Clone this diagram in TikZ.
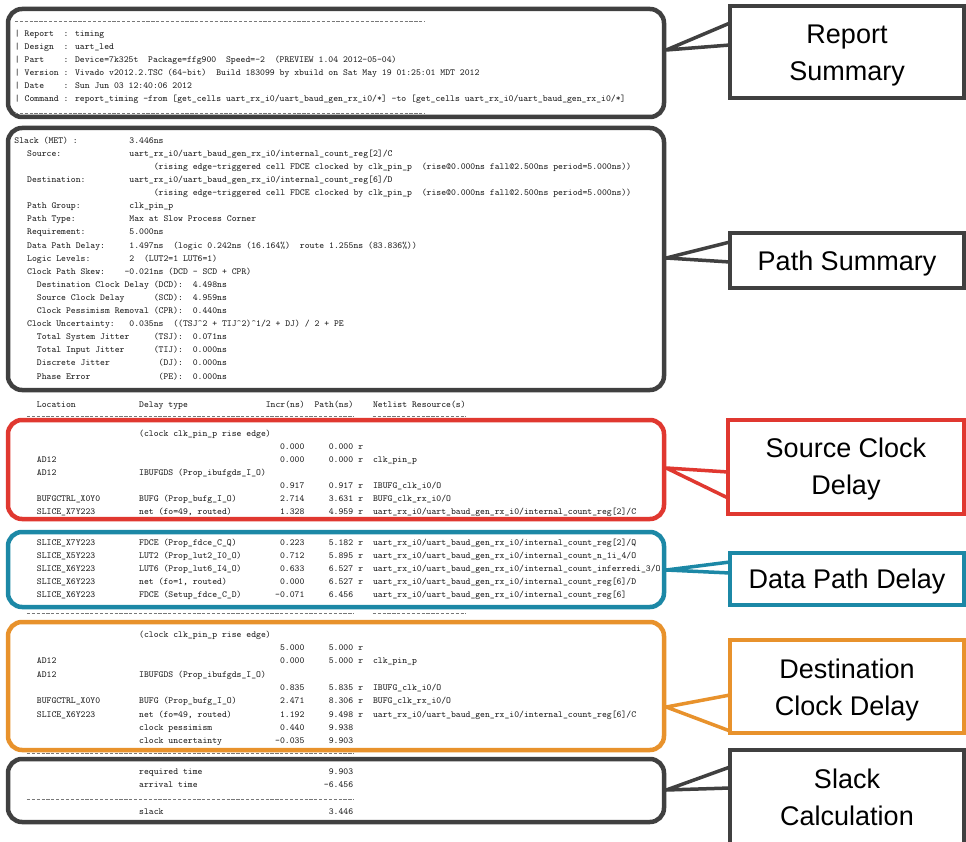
\documentclass[tikz,border=0pt]{standalone}
\usepackage{fontspec}
\newfontfamily\labfont{Liberation Sans}
\definecolor{cGray}{RGB}{64,64,64}
\definecolor{cRed}{RGB}{224,56,48}
\definecolor{cTeal}{RGB}{28,136,166}
\definecolor{cOrange}{RGB}{232,146,44}
\definecolor{cText}{RGB}{30,30,30}
\tikzset{
 tt/.style={font=\fontsize{9.28}{11}\selectfont\ttfamily, text=cText, inner sep=0pt, text height=6.5pt, text depth=2pt},
 rbox/.style={draw, line width=4.5pt, rounded corners=14pt, inner sep=0pt},
 lbox/.style={draw, line width=3.5pt, inner sep=0pt, fill=white},
 ltext/.style={inner sep=0pt, align=center, font=\labfont\fontsize{27}{37}\selectfont},
 conn/.style={line width=3.5pt, line join=round},
 dline/.style={line width=0.8pt, cText!60, dash pattern=on 3.2pt off 1.67pt}
}
\newcounter{tn}
\newcommand\T[3]{\stepcounter{tn}\node[tt,anchor=west] (tx\arabic{tn}) at ({17.2+#1*4.872},#2) {#3};}
\newcommand\R[3]{\stepcounter{tn}\node[tt,anchor=east] (tx\arabic{tn}) at ({17.2+#1*4.872},#2) {#3};}
\newcommand\TR[7]{%
 \if\relax\detokenize{#2}\relax\else\T{4}{#1}{#2}\fi
 \if\relax\detokenize{#3}\relax\else\T{25}{#1}{#3}\fi
 \if\relax\detokenize{#4}\relax\else\R{59}{#1}{#4}\fi
 \if\relax\detokenize{#5}\relax\else\R{69}{#1}{#5}\fi
 \if\relax\detokenize{#6}\relax\else\T{70}{#1}{#6}\fi
 \if\relax\detokenize{#7}\relax\else\T{73}{#1}{#7}\fi}
\newcommand\DL[2]{\draw[dline] ({17.2+#1*4.872},#2) -- ({17.2+69*4.872},#2);}
\begin{document}
\begin{tikzpicture}[x=1pt,y=-1pt]
\useasboundingbox (0,0) rectangle (966,842);
\fill[white] (0,0) rectangle (966,842);
\clip (0,0) rectangle (966,842);

% ---------- rounded section boxes ----------
\node[rbox, draw=cGray,   minimum width=656, minimum height=108] (b1) at (336,63) {};
\node[rbox, draw=cGray,   minimum width=656, minimum height=262] (b2) at (336,259) {};
\node[rbox, draw=cRed,    minimum width=656, minimum height=99]  (b3) at (336,469.5) {};
\node[rbox, draw=cTeal,   minimum width=656, minimum height=75]  (b4) at (336,569.5) {};
\node[rbox, draw=cOrange, minimum width=656, minimum height=128] (b5) at (336,686) {};
\node[rbox, draw=cGray,   minimum width=656, minimum height=63]  (b6) at (336,790.5) {};

% ---------- report summary ----------
\draw[dline] (15,21) -- (425,21);
\draw[dline] (15,113) -- (425,113);
\T{-0.5}{34}{| Report~~: timing}
\T{-0.5}{47.1}{| Design~~: uart\_led}
\T{-0.5}{60.2}{| Part~~~~: Device=7k325t~~Package=ffg900~~Speed=-2~~(PREVIEW 1.04 2012-05-04)}
\T{-0.5}{73.3}{| Version : Vivado v2012.2.TSC (64-bit)~~Build 183099 by xbuild on Sat May 19 01:25:01 MDT 2012}
\T{-0.5}{86.4}{| Date~~~~: Sun Jun 03 12:40:06 2012}
\T{-0.5}{99.5}{| Command : report\_timing -from [get\_cells uart\_rx\_i0/uart\_baud\_gen\_rx\_i0/*] -to [get\_cells uart\_rx\_i0/uart\_baud\_gen\_rx\_i0/*]}

% ---------- path summary ----------
\T{-0.6}{141}{Slack (MET) :}\T{23}{141}{3.446ns}
\T{2}{154.1}{Source:}\T{23}{154.1}{uart\_rx\_i0/uart\_baud\_gen\_rx\_i0/internal\_count\_reg[2]/C}
\T{28}{167.2}{(rising edge-triggered cell FDCE clocked by clk\_pin\_p~~(rise@0.000ns fall@2.500ns period=5.000ns))}
\T{2}{180.3}{Destination:}\T{23}{180.3}{uart\_rx\_i0/uart\_baud\_gen\_rx\_i0/internal\_count\_reg[6]/D}
\T{28}{193.4}{(rising edge-triggered cell FDCE clocked by clk\_pin\_p~~(rise@0.000ns fall@2.500ns period=5.000ns))}
\T{2}{206.5}{Path Group:}\T{23}{206.5}{clk\_pin\_p}
\T{2}{219.6}{Path Type:}\T{23}{219.6}{Max at Slow Process Corner}
\T{2}{232.7}{Requirement:}\T{23}{232.7}{5.000ns}
\T{2}{245.8}{Data Path Delay:}\T{23}{245.8}{1.497ns~~(logic 0.242ns (16.164\%)~~route 1.255ns (83.836\%))}
\T{2}{258.9}{Logic Levels:}\T{23}{258.9}{2~~(LUT2=1 LUT6=1)}
\T{2}{272}{Clock Path Skew:}\T{22}{272}{-0.021ns (DCD - SCD + CPR)}
\T{4}{285.1}{Destination Clock Delay (DCD):~~4.498ns}
\T{4}{298.2}{Source Clock Delay~~~~~~(SCD):~~4.959ns}
\T{4}{311.3}{Clock Pessimism Removal (CPR):~~0.440ns}
\T{2}{324.4}{Clock Uncertainty:}\T{23}{324.4}{0.035ns~~((TSJ\textasciicircum 2 + TIJ\textasciicircum 2)\textasciicircum 1/2 + DJ) / 2 + PE}
\T{4}{337.5}{Total System Jitter~~~~~(TSJ):~~0.071ns}
\T{4}{350.6}{Total Input Jitter~~~~~~(TIJ):~~0.000ns}
\T{4}{363.7}{Discrete Jitter~~~~~~~~~~(DJ):~~0.000ns}
\T{4}{376.8}{Phase Error~~~~~~~~~~~~~~(PE):~~0.000ns}

% ---------- table header ----------
\T{4}{405}{Location}\T{25}{405}{Delay type}\T{51}{405}{Incr(ns)}\T{61}{405}{Path(ns)}\T{73}{405}{Netlist Resource(s)}
\DL{2}{416}
\draw[dline] ({17.2+73*4.872},416) -- ({17.2+92*4.872},416);

% ---------- source clock delay ----------
\TR{434}{}{(clock clk\_pin\_p rise edge)}{}{}{}{}
\TR{447.1}{}{}{0.000}{0.000}{r}{}
\TR{460.2}{AD12}{}{0.000}{0.000}{r}{clk\_pin\_p}
\TR{473.3}{AD12}{IBUFGDS (Prop\_ibufgds\_I\_O)}{}{}{}{}
\TR{486.4}{}{}{0.917}{0.917}{r}{IBUFG\_clk\_i0/O}
\TR{499.5}{BUFGCTRL\_X0Y0}{BUFG (Prop\_bufg\_I\_O)}{2.714}{3.631}{r}{BUFG\_clk\_rx\_i0/O}
\TR{512.6}{SLICE\_X7Y223}{net (fo=49, routed)}{1.328}{4.959}{r}{uart\_rx\_i0/uart\_baud\_gen\_rx\_i0/internal\_count\_reg[2]/C}

% ---------- data path delay ----------
\TR{543}{SLICE\_X7Y223}{FDCE (Prop\_fdce\_C\_Q)}{0.223}{5.182}{r}{uart\_rx\_i0/uart\_baud\_gen\_rx\_i0/internal\_count\_reg[2]/Q}
\TR{556.1}{SLICE\_X5Y223}{LUT2 (Prop\_lut2\_I0\_O)}{0.712}{5.895}{r}{uart\_rx\_i0/uart\_baud\_gen\_rx\_i0/internal\_count\_n\_1i\_4/O}
\TR{569.2}{SLICE\_X6Y223}{LUT6 (Prop\_lut6\_I4\_O)}{0.633}{6.527}{r}{uart\_rx\_i0/uart\_baud\_gen\_rx\_i0/internal\_count\_inferredi\_3/O}
\TR{582.3}{SLICE\_X6Y223}{net (fo=1, routed)}{0.000}{6.527}{r}{uart\_rx\_i0/uart\_baud\_gen\_rx\_i0/internal\_count\_reg[6]/D}
\TR{595.4}{SLICE\_X6Y223}{FDCE (Setup\_fdce\_C\_D)}{-0.071}{6.456}{}{uart\_rx\_i0/uart\_baud\_gen\_rx\_i0/internal\_count\_reg[6]}
\DL{2}{613}
\draw[dline] ({17.2+73*4.872},613) -- ({17.2+92*4.872},613);

% ---------- destination clock delay ----------
\TR{635}{}{(clock clk\_pin\_p rise edge)}{}{}{}{}
\TR{648.3}{}{}{5.000}{5.000}{r}{}
\TR{661.6}{AD12}{}{0.000}{5.000}{r}{clk\_pin\_p}
\TR{674.9}{AD12}{IBUFGDS (Prop\_ibufgds\_I\_O)}{}{}{}{}
\TR{688.2}{}{}{0.835}{5.835}{r}{IBUFG\_clk\_i0/O}
\TR{701.5}{BUFGCTRL\_X0Y0}{BUFG (Prop\_bufg\_I\_O)}{2.471}{8.306}{r}{BUFG\_clk\_rx\_i0/O}
\TR{714.8}{SLICE\_X6Y223}{net (fo=49, routed)}{1.192}{9.498}{r}{uart\_rx\_i0/uart\_baud\_gen\_rx\_i0/internal\_count\_reg[6]/C}
\TR{728.1}{}{clock pessimism}{0.440}{9.938}{}{}
\TR{741.4}{}{clock uncertainty}{-0.035}{9.903}{}{}
\DL{2}{753.5}

% ---------- slack calculation ----------
\TR{772}{}{required time}{}{9.903}{}{}
\TR{785.5}{}{arrival time}{}{-6.456}{}{}
\DL{2}{799}
\TR{812.5}{}{slack}{}{3.446}{}{}

% ---------- connectors ----------
\draw[conn, cGray]   (730,23) -- (b1.east|-0,50) -- (730,45);
\draw[conn, cGray]   (730,242) -- (b2.east|-0,258) -- (730,262);
\draw[conn, cRed]    (728,472) -- (b3.east|-0,468) -- (728,498);
\draw[conn, cTeal]   (730,562) -- (b4.east|-0,570) -- (730,573);
\draw[conn, cOrange] (730,695) -- (b5.east|-0,707) -- (730,731);
\draw[conn, cGray]   (730,767) -- (b6.east|-0,790) -- (730,788);

% ---------- label boxes ----------
\node[lbox, draw=cGray,   minimum width=234, minimum height=92]  (l1) at (847,52) {};
\node[lbox, draw=cGray,   minimum width=234, minimum height=55]  (l2) at (847,260.5) {};
\node[lbox, draw=cRed,    minimum width=236, minimum height=94]  (l3) at (846,467) {};
\node[lbox, draw=cTeal,   minimum width=234, minimum height=52]  (l4) at (847,579) {};
\node[lbox, draw=cOrange, minimum width=234, minimum height=93]  (l5) at (847,686.5) {};
\node[lbox, draw=cGray,   minimum width=234, minimum height=100] (l6) at (847,800) {};
\node[ltext] (l1t) at (847,56) {Report\\Summary};
\node[ltext] (l2t) at (847,263.5) {Path Summary};
\node[ltext] (l3t) at (846,469) {Source Clock\\Delay};
\node[ltext] (l4t) at (847,582) {Data Path Delay};
\node[ltext] (l5t) at (847,690) {Destination\\Clock Delay};
\node[ltext] (l6t) at (847,797) {Slack\\Calculation};
\end{tikzpicture}
\end{document}
